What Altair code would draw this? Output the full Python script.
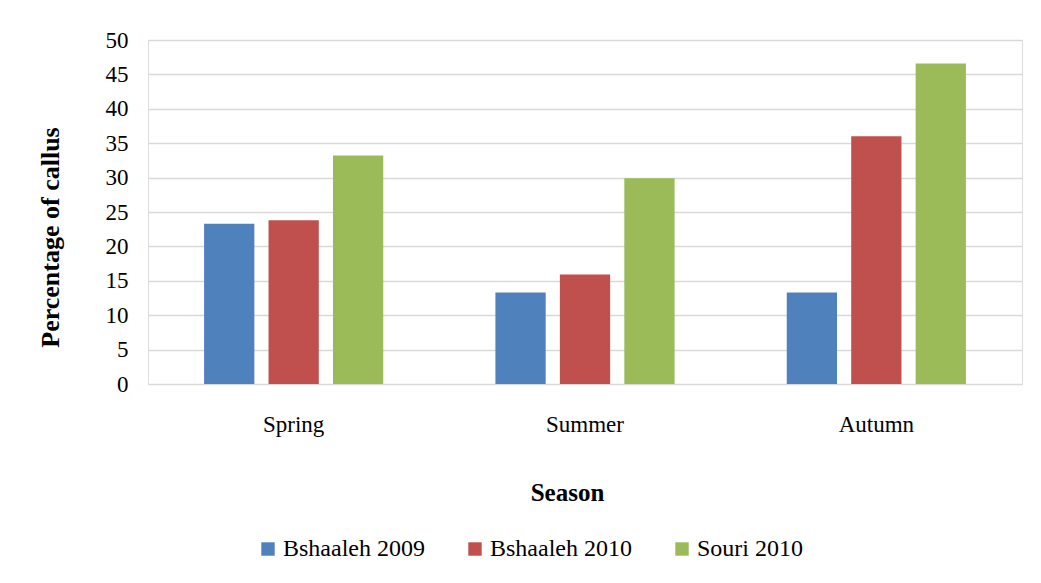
import altair as alt
import pandas as pd

seasons = ["Spring", "Summer", "Autumn"]
series = ["Bshaaleh 2009", "Bshaaleh 2010", "Souri 2010"]
bshaaleh_2009 = [23.3, 13.3, 13.3]
bshaaleh_2010 = [23.8, 15.9, 36.0]
souri_2010 = [33.2, 29.9, 46.6]
colors = ["#4F81BD", "#C0504D", "#9BBB59"]

rows = []
for name, vals in zip(series, [bshaaleh_2009, bshaaleh_2010, souri_2010]):
    for s, v in zip(seasons, vals):
        rows.append({"Season": s, "Series": name, "Value": v})
df = pd.DataFrame(rows)

font = "Liberation Serif"
fs = 23

chart = alt.Chart(df).mark_bar().encode(
    x=alt.X("Season:N", sort=seasons, title="Season",
            scale=alt.Scale(paddingInner=0.385, paddingOuter=0.1925),
            axis=alt.Axis(labelAngle=0, labelFontSize=fs, labelFont=font, labelColor="#000",
                          ticks=False, domain=False, labelPadding=29,
                          titleFontSize=25, titleFont=font, titleFontWeight="bold",
                          titleColor="#000", titlePadding=44, titleX=419)),
    xOffset=alt.XOffset("Series:N", sort=series, scale=alt.Scale(paddingInner=0.22)),
    y=alt.Y("Value:Q", title="Percentage of callus",
            scale=alt.Scale(domain=[0, 50]),
            axis=alt.Axis(values=list(range(0, 51, 5)), labelFontSize=fs, labelFont=font,
                          labelColor="#000", ticks=False, domain=False, labelPadding=20,
                          gridColor="#d9d9d9", gridWidth=1.5,
                          titleFontSize=26, titleFont=font, titleFontWeight="bold",
                          titleColor="#000", titlePadding=42, titleY=197)),
    color=alt.Color("Series:N", sort=series, title=None,
                    scale=alt.Scale(domain=series, range=colors),
                    legend=alt.Legend(orient="none", legendX=108, legendY=497,
                                      direction="horizontal",
                                      symbolType="square", symbolSize=180,
                                      labelFontSize=24, labelFont=font, labelColor="#000",
                                      labelOffset=3,
                                      columnPadding=38, symbolStrokeWidth=0)),
).properties(
    width=874, height=344,
    autosize=alt.AutoSizeParams(type="none"),
    padding={"left": 140, "top": 32, "right": 11, "bottom": 191},
).configure_view(stroke=None).configure(background="white")

chart.save("out.html", embed_options={"renderer": "svg", "actions": False})
